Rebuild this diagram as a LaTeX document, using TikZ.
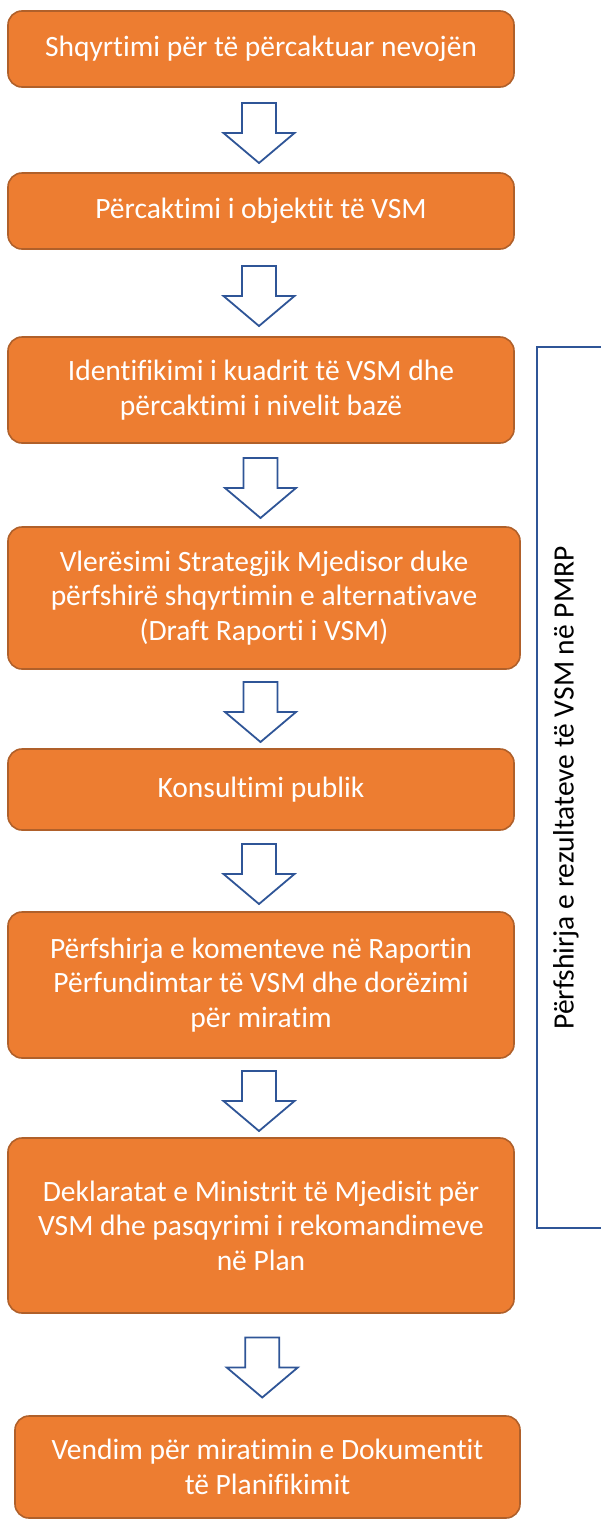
\documentclass[tikz,border=0pt]{standalone}
\usepackage{fontspec}
\setmainfont{Carlito}[Ligatures=NoCommon]
\usetikzlibrary{calc}
\definecolor{boxfill}{HTML}{ED7D31}
\definecolor{boxline}{HTML}{B0602A}
\definecolor{arrline}{HTML}{2F5597}
\begin{document}
\begin{tikzpicture}[x=1pt,y=-1pt,
	stepbox/.style={draw=boxline,line width=1.6pt,fill=boxfill,rounded corners=14pt,
		minimum width=506pt,text=white,align=center,inner sep=0pt,
		font=\fontsize{29.5}{34.5}\selectfont},
	blockarrow/.style={draw=arrline,line width=1.8pt,fill=white,line join=miter},
	bracket/.style={draw=arrline,line width=1.3pt}]
	\useasboundingbox (0,0) rectangle (601,1521);
	\node[stepbox,minimum height=76pt] (b1) at (261,49) {Shqyrtimi për të përcaktuar nevojën};
	\node[stepbox,minimum height=76pt] (b2) at (261,211) {Përcaktimi i objektit të VSM};
	\node[stepbox,minimum height=106pt] (b3) at (261,390) {Identifikimi i kuadrit të VSM dhe\\përcaktimi i nivelit bazë};
	\node[stepbox,minimum height=142pt,minimum width=512pt] (b4) at (264,598) {Vlerësimi Strategjik Mjedisor duke\\përfshirë shqyrtimin e alternativave\\(Draft Raporti i VSM)};
	\node[stepbox,minimum height=81pt] (b5) at (261,789.5) {Konsultimi publik};
	\node[stepbox,minimum height=146pt] (b6) at (261,985) {Përfshirja e komenteve në Raportin\\Përfundimtar të VSM dhe dorëzimi\\për miratim};
	\node[stepbox,minimum height=175pt] (b7) at (261,1225.5) {Deklaratat e Ministrit të Mjedisit për\\VSM dhe pasqyrimi i rekomandimeve\\në Plan};
	\node[stepbox,minimum height=102pt,minimum width=505pt] (b8) at (267.5,1467) {Vendim për miratimin e Dokumentit\\të Planifikimit};
	% block arrows between the steps
	\foreach \a/\b in {b1/b2,b2/b3,b3/b4,b4/b5,b5/b6,b6/b7,b7/b8}
		\draw[blockarrow,shift={($(\a.south)!0.5!(\b.north)+(-2,3)$)}]
			(-17,-30) -- (17,-30) -- (17,0) -- (35.5,0) -- (0,30) -- (-35.5,0) -- (-17,0) -- cycle;
	% bracket on the right
	\coordinate (brtop) at (601,347);
	\coordinate (brbot) at (601,1228);
	\draw[bracket] (brtop) -- (537,347) -- (537,1228) -- (brbot);
	\node[rotate=90,font=\fontsize{29.5}{34}\selectfont] (pmrp) at (566,788) {Përfshirja e rezultateve të VSM në PMRP};
\end{tikzpicture}
\end{document}
